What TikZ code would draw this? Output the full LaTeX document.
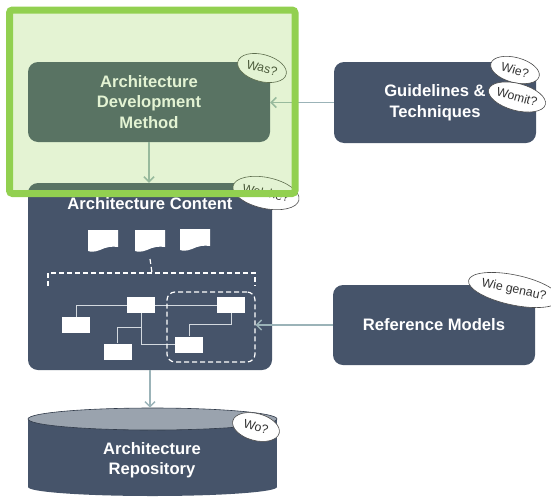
\documentclass[tikz,border=0pt]{standalone}
\usepackage{fontspec}
\setmainfont{Liberation Sans}
\usetikzlibrary{positioning}
\usetikzlibrary{shapes.geometric,arrows.meta}
\definecolor{slate}{HTML}{46546A}
\definecolor{flowgray}{HTML}{9BB3B8}
\definecolor{capgray}{HTML}{9AA3AE}
\definecolor{markgreen}{HTML}{92D050}
\definecolor{linkgray}{HTML}{D3D9DF}

\begin{document}
\begin{tikzpicture} [x=1pt, y=-1pt,
                block/.style = {fill=slate, rounded corners=10pt, inner sep=0pt, text=white, align=center, font=\fontsize{16.6}{20.5}\selectfont\bfseries},
                boxtext/.style = {text=white, align=center, inner sep=0pt, font=\fontsize{16.6}{20.5}\selectfont\bfseries},
                asks/.style = {ellipse, draw=black!70, fill=white, line width=0.6pt, inner sep=0pt, text=black!80, font=\fontsize{12.3}{14}\selectfont},
                part/.style = {fill=white, minimum width=28, minimum height=16, inner sep=0pt},
                link/.style = {linkgray, line width=1pt},
                whitedash/.style = {white, dash pattern=on 5pt off 3pt, line width=1.2pt},
                flow/.style = {flowgray, line width=1.5pt, -{Straight Barb[length=5pt,width=10pt]}},
                docsheet/.pic = {
                    \fill[white] (0,0) -- (30,0) -- (30,17) .. controls (24,16) and (18,17) .. (12,20) .. controls (7,22) and (3,22) .. (0,21) -- cycle;
                    \coordinate (-foot) at (15,21);
                }
            ]
            \useasboundingbox (0,0) rectangle (551,498);
            % boxes
            \node[block, minimum width=242, minimum height=80] (adm) at (149,102) {Architecture\\Development\\Method};
            \node[block, minimum width=202, minimum height=81] (guide) at (435,102.5) {Guidelines \&\\Techniques};
            \node[block, minimum width=244, minimum height=187] (content) at (150,276.5) {};
            \node[boxtext] (ctitle) at (150,204) {Architecture Content};
            \node[block, minimum width=202, minimum height=80] (refm) at (434,325) {Reference Models};
            % repository
            \fill[slate] (28,419) rectangle (277,487);
            \fill[slate] (152.5,487) ellipse [x radius=124.5, y radius=9];
            \node[ellipse, draw=slate!70!black, fill=capgray, line width=0.6pt, minimum width=249, minimum height=22, inner sep=0pt] (repocap) at (152.5,419) {};
            \node[boxtext] (repo) at (152,460) {Architecture\\Repository};
            % documents
            \pic (d1) at (88,230) {docsheet};
            \pic (d2) at (135,230) {docsheet};
            \pic (d3) at (180,229) {docsheet};
            \coordinate (brk) at (152,273);
            \draw[whitedash] ([yshift=-8pt] d2-foot) -- (brk);
            \draw[whitedash] (48,286) -- (48,273) -- (255,273) -- (255,286);
            % model parts
            \node[part] (pa) at (76,325) {};
            \node[part] (pb) at (141,305) {};
            \node[part] (pc) at (231,305) {};
            \node[part] (pd) at (117.5,351.5) {};
            \node[part] (pe) at (189,344.5) {};
            \draw[link] (pa.north) |- (pb.west);
            \draw[link] (pb.east) -- (pc.west);
            \draw[link] (pb.south) |- (pe.west);
            \draw[link] (pd.north) -- ++(0,-15.5) -| (pb.south);
            \draw[link] (pc.south) -- ++(0,11) -| (pe.north);
            \node[draw=white, whitedash, rounded corners=8pt, minimum width=88, minimum height=70] (grp) at (211,327) {};
            % connectors
            \draw[flow] (guide.west) -- (guide.west -| adm.east);
            \draw[flow] (adm.south) -- (adm.south |- content.north);
            \draw[flow] (content.south) -- (content.south |- repocap.north);
            \draw[flow] (refm.west) -- (refm.west -| grp.east);
            % questions
            \node[asks, minimum width=50, minimum height=27, rotate=-15] (was) at (262,68) {Was?};
            \node[asks, minimum width=50, minimum height=25, rotate=-15] (wie) at (515,70) {Wie?};
            \node[asks, minimum width=57, minimum height=27, rotate=-15] (womit) at (517,97) {Womit?};
            \node[asks, minimum width=67, minimum height=31, rotate=-12] (welche) at (266,193) {Welche?};
            \node[asks, minimum width=72, minimum height=30, rotate=-12] (genau) at (514,290) {Wie genau?};
            \node[asks, minimum width=48, minimum height=27, rotate=-15] (wo) at (256,427) {Wo?};
            % highlight
            \draw[markgreen, line width=7pt, fill=markgreen, fill opacity=0.25, rounded corners=3pt] (9.5,10) rectangle (295,193.5);
        \end{tikzpicture}
\end{document}
